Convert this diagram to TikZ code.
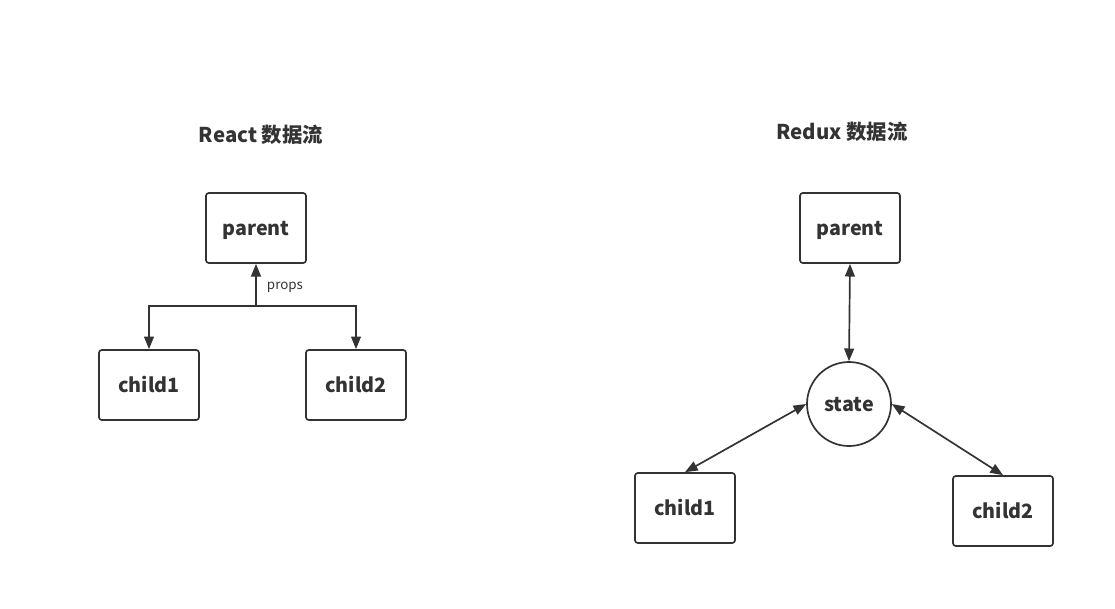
\documentclass[tikz,border=0pt]{standalone}
\usepackage{fontspec}
\setmainfont{Noto Sans CJK SC}
\usetikzlibrary{arrows.meta}

\tikzset{
  box/.style={draw=black!80, line width=1.2pt, rounded corners=2pt, minimum width=2.5cm, minimum height=1.75cm, text height=2ex, text depth=0ex, font=\fontsize{14}{16}\selectfont\bfseries, text=black!80},
  statecircle/.style={draw=black!80, line width=1.2pt, circle, minimum size=2.1cm, text height=2ex, text depth=0ex, font=\fontsize{14}{16}\selectfont\bfseries, text=black!80},
  title/.style={font=\fontsize{14.5}{16}\selectfont\bfseries, text=black!80},
  flow/.style={black!80, line width=1.2pt, >={Triangle[length=9pt, width=7pt]}}
}

\begin{document}
\begin{tikzpicture}[x=0.025cm, y=-0.025cm]
\useasboundingbox (0,0) rectangle (1115,608);

\node[title] (reacttitle) at (261,135) {React 数据流};
\node[title] (reduxtitle) at (842,132) {Redux 数据流};

\node[box] (parentA) at (256,228) {parent};
\node[box] (childA1) at (149,385) {child1};
\node[box] (childA2) at (356,385) {child2};

\coordinate (split) at (256,306);
\draw[flow, ->] (split) -- (parentA.south);
\draw[flow, ->] (split) -| (childA1.north);
\draw[flow, ->] (split) -| (childA2.north);
\node[right, font=\fontsize{9.5}{11}\selectfont, text=black!80] (props) at (262,287) {props};

\node[box] (parentB) at (850,228) {parent};
\node[statecircle] (state) at (849,404) {state};
\node[box] (childB1) at (685,508) {child1};
\node[box] (childB2) at (1003,511) {child2};

\draw[flow, <->] (parentB.south) -- (state.north);
\draw[flow, <->] (state.west) -- (childB1.north);
\draw[flow, <->] (state.east) -- (childB2.north);
\end{tikzpicture}
\end{document}
